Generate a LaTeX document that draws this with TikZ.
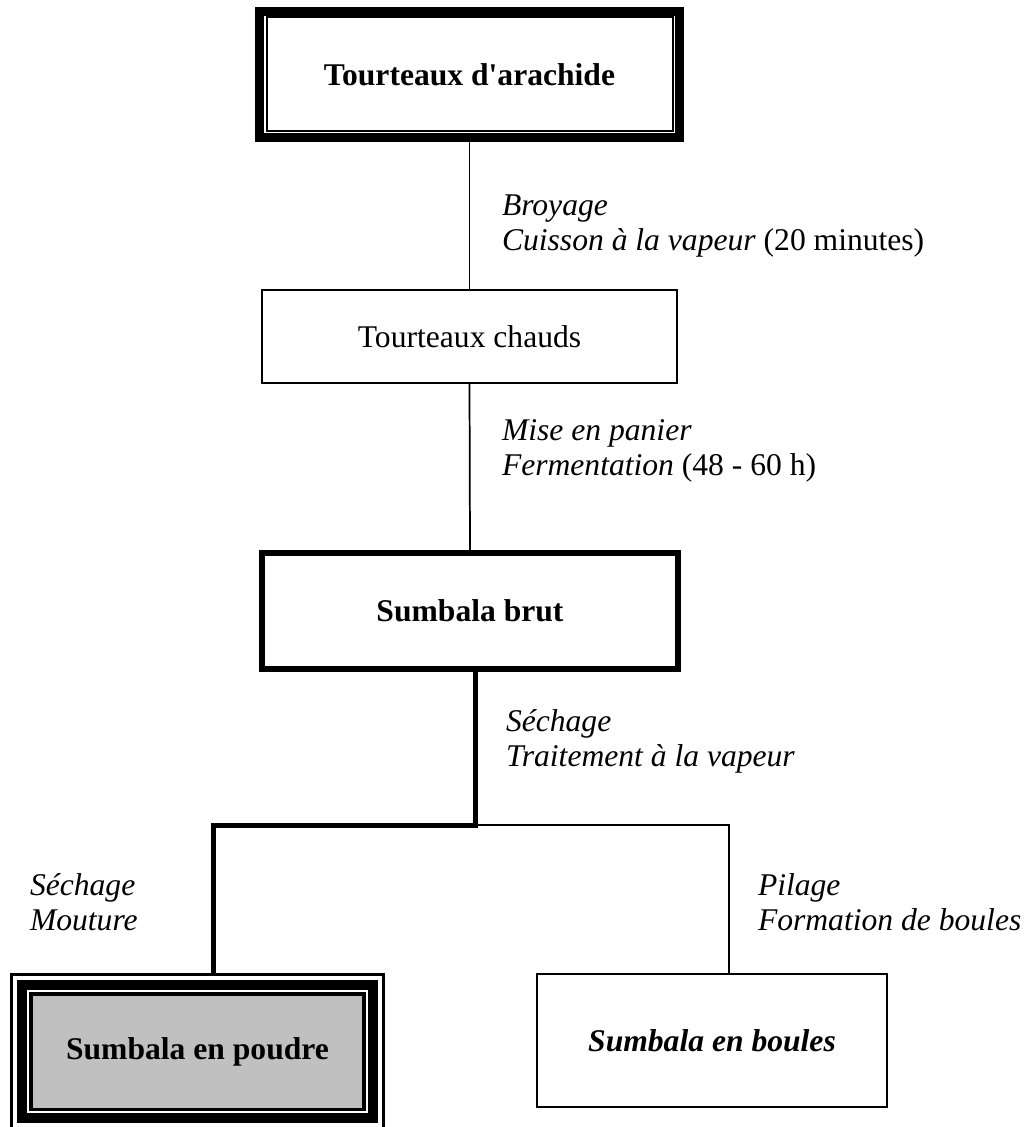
\documentclass[tikz,border=0pt]{standalone}
\usepackage{fontspec}
\setmainfont{Liberation Serif}
\usetikzlibrary{backgrounds,calc}
\definecolor{boxgray}{RGB}{192,192,192}
\begin{document}
\begin{tikzpicture}[x=0.75pt,y=-0.75pt,
  every node/.style={inner sep=0pt, outer sep=0pt},
  box/.style={draw, rectangle, align=center, font=\fontsize{23.7}{28}\selectfont},
  boldbox/.style={box, font=\fontsize{23.7}{28}\selectfont\bfseries},
  thinline/.style={line width=1.3pt},
  thickline/.style={line width=3.75pt, line join=miter},
  lab/.style={anchor=base west, font=\fontsize{23.7}{26.25}\selectfont\itshape},
]
\useasboundingbox (0,0) rectangle (1035,1127);

% boxes
\node[boldbox, line width=6.75pt, minimum width=315pt, minimum height=94.5pt] (n1) at (469.5,74.5) {Tourteaux d\textquotesingle arachide};
\draw[line width=1.5pt] ([shift={(7,6)}]n1.north west) rectangle ([shift={(-7,-6)}]n1.south east);

\node[box, line width=1.1pt, minimum width=311.25pt, minimum height=69.75pt] (n2) at (469.5,336.5) {Tourteaux chauds};

\node[boldbox, line width=4.5pt, minimum width=312pt, minimum height=87pt] (n3) at (470,611) {Sumbala brut};

\node[boldbox, line width=7.5pt, minimum width=263.25pt, minimum height=100.1pt] (n4) at (197.5,1051.75) {Sumbala en poudre};
\begin{scope}[on background layer]
  \filldraw[fill=boxgray, line width=2.6pt] ([shift={(9,9)}]n4.north west) rectangle ([shift={(-9,-9)}]n4.south east);
  \draw[line width=2.6pt] ([shift={(-10.5,-10.5)}]n4.north west) rectangle ([shift={(10.5,10.5)}]n4.south east);
\end{scope}

\node[box, line width=2pt, minimum width=262.5pt, minimum height=99.75pt, font=\fontsize{23.7}{28}\selectfont\bfseries\itshape] (n5) at (712,1040.5) {Sumbala en boules};

% connectors
\coordinate (j) at (475,825);
\coordinate (jl) at (213,825);
\coordinate (jr) at (729,825);
\draw[thinline] (n1.south) -- (n2.north);
\draw[thinline] (n2.south) -- (n3.north);
\draw[thickline] (n3.south -| j) -- (j) -- (jl) -- ([shift={(0,-11)}]jl |- n4.north);
\draw[thinline] (j) -- (jr) -- (jr |- n5.north);

% labels
\node[lab] (l1) at (502,215) {\begin{tabular}[t]{@{}l@{}}Broyage\\Cuisson à la vapeur \textup{(20 minutes)}\end{tabular}};
\node[lab] (l2) at (502,440) {\begin{tabular}[t]{@{}l@{}}Mise en panier\\Fermentation \textup{(48 - 60 h)}\end{tabular}};
\node[lab] (l3) at (506,731) {\begin{tabular}[t]{@{}l@{}}Séchage\\Traitement à la vapeur\end{tabular}};
\node[lab] (l4) at (30,895) {\begin{tabular}[t]{@{}l@{}}Séchage\\Mouture\end{tabular}};
\node[lab] (l5) at (758,895) {\begin{tabular}[t]{@{}l@{}}Pilage\\Formation de boules\end{tabular}};
\end{tikzpicture}
\end{document}
